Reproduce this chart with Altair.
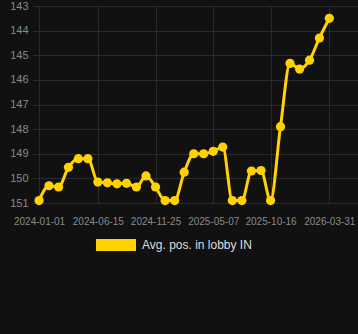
import altair as alt
import pandas as pd

dates = [
    "2024-01-01", "2024-01-29", "2024-02-25", "2024-03-24", "2024-04-21", "2024-05-18",
    "2024-06-15", "2024-07-12", "2024-08-08", "2024-09-04", "2024-10-02", "2024-10-29",
    "2024-11-25", "2024-12-22", "2025-01-18", "2025-02-14", "2025-03-13", "2025-04-10",
    "2025-05-07", "2025-06-03", "2025-06-30", "2025-07-27", "2025-08-23", "2025-09-19",
    "2025-10-16", "2025-11-13", "2025-12-10", "2026-01-06", "2026-02-03", "2026-03-03",
    "2026-03-31",
]
positions = [
    150.9, 150.3, 150.35, 149.55, 149.2, 149.2,
    150.15, 150.18, 150.22, 150.2, 150.35, 149.9,
    150.35, 150.9, 150.9, 149.75, 149.0, 149.0,
    148.9, 148.73, 150.9, 150.9, 149.7, 149.68,
    150.9, 147.9, 145.33, 145.56, 145.2, 144.3,
    143.5,
]
series_name = "Avg. pos. in lobby IN"
tick_dates = ["2024-01-01", "2024-06-15", "2024-11-25", "2025-05-07", "2025-10-16", "2026-03-31"]
y_ticks = [143, 144, 145, 146, 147, 148, 149, 150, 151]

color = "#ffd200"
df = pd.DataFrame({"date": dates, "pos": positions, "series": series_name})


def dt(s):
    y, m, d = (int(p) for p in s.split("-"))
    return alt.DateTime(year=y, month=m, date=d, utc=True)


x_enc = alt.X(
    "date:T",
    scale=alt.Scale(type="utc", domain=[dt("2023-12-12"), dt("2026-06-20")]),
    axis=alt.Axis(
        values=[dt(t) for t in tick_dates],
        format="%Y-%m-%d",
        title=None,
        ticks=False,
        domain=False,
        labelFlush=False,
        labelOverlap=False,
        labelBound=False,
        labelPadding=13,
        labelFontSize=10,
        labelColor="#8a8a8a",
        gridColor="#2a2a2a",
        labelFont="Liberation Sans",
    ),
)
y_enc = alt.Y(
    "pos:Q",
    scale=alt.Scale(domain=[143, 151], reverse=True, nice=False, zero=False),
    axis=alt.Axis(
        values=y_ticks,
        title=None,
        ticks=False,
        domain=False,
        labelPadding=4,
        labelFontSize=11,
        labelColor="#8a8a8a",
        gridColor="#2a2a2a",
        labelFont="Liberation Sans",
    ),
)

line = alt.Chart(df).mark_line(
    interpolate="monotone", color=color, strokeWidth=3
).encode(x=x_enc, y=y_enc)

points = alt.Chart(df).mark_circle(size=85, opacity=1).encode(
    x=x_enc,
    y=y_enc,
    color=alt.Color(
        "series:N",
        scale=alt.Scale(range=[color]),
        legend=alt.Legend(
            title=None,
            orient="none",
            legendX=64,
            legendY=219,
            symbolType="M-1,-0.3H1V0.3H-1Z",
            symbolSize=1600,
            symbolStrokeWidth=0,
            symbolOpacity=1,
            labelFontSize=12,
            labelColor="#dddddd",
            labelFont="Liberation Sans",
            labelOffset=6,
        ),
    ),
)

chart = (
    alt.layer(line, points)
    .properties(
        width=326,
        height=197,
        background="#111111",
        padding={"left": 32, "top": 6, "right": 0, "bottom": 131},
        autosize=alt.AutoSizeParams(type="none"),
    )
    .configure_view(stroke=None)
)

chart.save("out.html", embed_options={"renderer": "svg", "actions": False})
